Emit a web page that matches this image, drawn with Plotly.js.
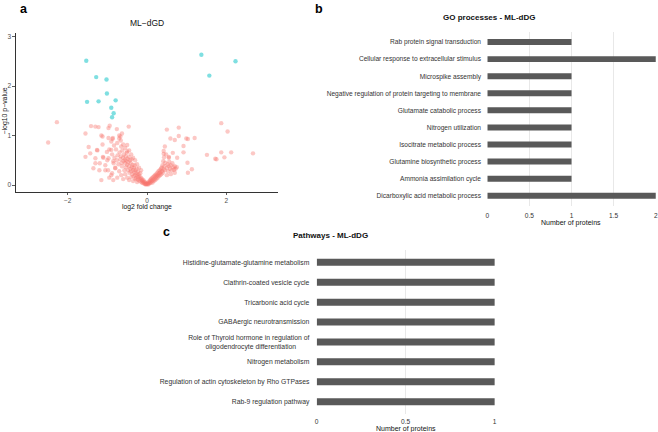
<!DOCTYPE html>
<html>
<head>
<meta charset="utf-8">
<script src="https://cdn.plot.ly/plotly-3.0.1.min.js"></script>
<style>html,body{margin:0;padding:0;background:#fff;}#chart{width:658px;height:432px;}</style>
</head>
<body>
<div id="chart"></div>
<script>
// ---- Panel a: volcano plot (log2 fold change, -log10 p-value) ----
const sigPoints = [
  [-1.53,2.51],[-1.28,2.18],[-1.02,2.13],[-1.01,1.85],[-1.51,1.68],[-1.22,1.69],
  [-0.79,1.71],[-0.90,1.56],[-0.84,1.45],[-0.88,1.37],[1.37,2.63],[1.57,2.21],[2.23,2.50]
];
const nonSigPoints = [
  [-2.49,0.86],[-2.27,1.27],[-1.55,1.04],[-1.41,1.19],[-1.30,1.18],[-1.22,1.17],[-1.15,1.00],[-1.12,0.98],
  [-0.97,1.15],[-0.94,1.20],[-0.76,1.13],[-0.87,0.93],[-0.97,0.95],[-0.63,1.04],[-0.70,0.94],[-0.83,0.80],
  [-1.47,0.77],[-1.43,0.64],[-1.55,0.57],[-1.26,0.71],[-1.30,0.54],[-1.19,0.44],[-1.35,0.34],[-1.05,0.30],
  [-0.97,0.54],[-1.01,0.67],[-1.11,0.57],[-0.90,0.71],[-0.84,0.44],[-0.80,0.34],[-0.88,0.24],[-1.15,0.10],
  [-1.30,0.44],[-0.46,1.18],[-0.67,0.98],[-0.65,0.78],[-0.50,0.81],
  [0.50,1.12],[0.80,1.16],[0.59,0.94],[0.70,0.91],[0.80,0.99],[0.92,0.79],[0.99,0.94],[1.03,0.93],
  [1.20,0.95],[0.92,0.66],[0.42,0.69],[0.42,0.63],[0.55,0.57],[0.65,0.65],[0.76,0.55],[1.02,0.45],
  [1.13,0.32],[1.03,0.25],[1.51,0.61],[1.72,0.53],[1.75,0.52],[1.87,1.25],[2.03,1.08],[1.87,0.66],
  [1.95,0.56],[2.12,0.66],[2.67,0.64],
  [-0.88,0.62],[-0.85,0.48],[-0.82,0.55],[-0.80,0.35],[-0.78,0.72],[-0.76,0.50],[-0.74,0.60],[-0.72,0.42],
  [-0.70,0.28],[-0.69,0.66],[-0.67,0.52],[-0.66,0.58],[-0.64,0.45],[-0.63,0.38],[-0.62,0.70],[-0.60,0.55],
  [-0.59,0.48],[-0.58,0.62],[-0.57,0.30],[-0.56,0.51],[-0.55,0.44],[-0.54,0.58],[-0.53,0.36],[-0.52,0.49],
  [-0.51,0.65],[-0.50,0.41],[-0.49,0.53],[-0.48,0.30],[-0.47,0.46],[-0.46,0.57],[-0.45,0.38],[-0.44,0.25],
  [-0.43,0.50],[-0.42,0.33],[-0.41,0.44],[-0.40,0.28],[-0.39,0.52],[-0.38,0.36],[-0.37,0.22],[-0.36,0.41],
  [-0.35,0.30],[-0.34,0.18],[-0.33,0.35],[-0.32,0.26],[-0.31,0.40],[-0.30,0.20],[-0.29,0.30],[-0.28,0.14],
  [-0.27,0.24],[-0.26,0.33],[-0.25,0.19],[-0.24,0.11],[-0.23,0.27],[-0.22,0.16],[-0.21,0.22],[-0.20,0.09],
  [-0.19,0.18],[-0.18,0.13],[-0.17,0.24],[-0.16,0.07],[-0.15,0.15],[-0.14,0.10],[-0.13,0.05],[-0.12,0.12],
  [-0.11,0.08],[-0.10,0.04],[-0.09,0.10],[-0.08,0.06],[-0.07,0.03],[-0.06,0.07],[-0.05,0.02],[-0.04,0.05],
  [-0.03,0.01],[-0.02,0.03],[-0.01,0.02],
  [-0.95,0.72],[-1.00,0.50],[-0.98,0.30],[-1.10,0.55],[-1.12,0.82],[-0.90,0.88],[-0.86,0.95],[-0.75,0.85],
  [-0.70,1.00],[-0.66,0.90],[-0.60,0.82],[-0.55,0.75],[-0.50,0.68],[-0.45,0.70],[-0.40,0.62],[-0.35,0.55],
  [-0.30,0.50],[-0.25,0.42],[-0.20,0.35],[-0.15,0.30],[-0.90,0.20],[-0.85,0.10],[-0.75,0.15],[-0.65,0.20],
  [-0.60,0.12],[-0.55,0.22],[-0.50,0.15],[-0.45,0.10],[-0.40,0.16],[-0.35,0.08],[-0.30,0.12],[-0.25,0.06],
  [-1.20,0.30],[-1.25,0.70],[-1.05,0.40],[-0.95,0.15],
  [0.01,0.02],[0.02,0.04],[0.03,0.01],[0.04,0.06],[0.05,0.03],[0.06,0.08],[0.07,0.05],[0.08,0.10],
  [0.09,0.04],[0.10,0.12],[0.11,0.07],[0.12,0.14],[0.13,0.09],[0.14,0.05],[0.15,0.16],[0.16,0.11],
  [0.17,0.08],[0.18,0.18],[0.19,0.13],[0.20,0.20],[0.21,0.10],[0.22,0.16],[0.23,0.22],[0.24,0.13],
  [0.25,0.19],[0.26,0.25],[0.27,0.15],[0.28,0.21],[0.29,0.28],[0.30,0.18],[0.31,0.24],[0.32,0.30],
  [0.33,0.20],[0.34,0.26],[0.35,0.33],[0.36,0.22],[0.37,0.35],[0.38,0.28],[0.39,0.40],[0.40,0.25],
  [0.41,0.48],[0.42,0.32],[0.43,0.56],[0.44,0.38],[0.45,0.30],[0.46,0.45],[0.48,0.62],[0.50,0.35],
  [0.52,0.42],[0.53,0.28],[0.55,0.38],[0.56,0.47],[0.58,0.33],[0.60,0.40],[0.62,0.30],[0.64,0.44],
  [0.66,0.36],[0.68,0.31],[0.70,0.38],[0.72,0.33],[0.75,0.36],[0.45,0.78],[0.50,0.20],[0.60,0.22],
  [0.70,0.25],[0.55,0.55]
];
const volcanoXTicks = [-2, 0, 2];
const volcanoYTicks = [0, 1, 2, 3];

// ---- Panel b: GO processes ----
const goProcesses = [
  "Rab protein signal transduction",
  "Cellular response to extracellular stimulus",
  "Microspike assembly",
  "Negative regulation of protein targeting to membrane",
  "Glutamate catabolic process",
  "Nitrogen utilization",
  "Isocitrate metabolic process",
  "Glutamine biosynthetic process",
  "Ammonia assimilation cycle",
  "Dicarboxylic acid metabolic process"
];
const goCounts = [1, 2, 1, 1, 1, 1, 1, 1, 1, 2];
const goTicks = [0, 0.5, 1, 1.5, 2];

// ---- Panel c: Pathways ----
const pathways = [
  "Histidine-glutamate-glutamine metabolism",
  "Clathrin-coated vesicle cycle",
  "Tricarbonic acid cycle",
  "GABAergic neurotransmission",
  "Role of Thyroid hormone in regulation of<br>oligodendrocyte differentiation\u00A0\u00A0\u00A0\u00A0\u00A0\u00A0\u00A0",
  "Nitrogen metabolism",
  "Regulation of actin cytoskeleton by Rho GTPases",
  "Rab-9 regulation pathway"
];
const pathwayCounts = [1, 1, 1, 1, 1, 1, 1, 1];
const pathwayTicks = [0, 0.5, 1];

const W = 658, H = 432;
const px = v => v / W;
const py = v => 1 - v / H;
const FONT = "Liberation Sans, Arial, sans-serif";

const traces = [
  {
    type: "scatter", mode: "markers", xaxis: "x", yaxis: "y",
    x: nonSigPoints.map(p => p[0]), y: nonSigPoints.map(p => p[1]),
    marker: {color: "#F8766D", opacity: 0.4, size: 4.4, line: {width: 0}},
    hoverinfo: "x+y"
  },
  {
    type: "scatter", mode: "markers", xaxis: "x", yaxis: "y",
    x: sigPoints.map(p => p[0]), y: sigPoints.map(p => p[1]),
    marker: {color: "#00BFC4", opacity: 0.5, size: 4.4, line: {width: 0}},
    hoverinfo: "x+y"
  },
  {
    type: "bar", orientation: "h", xaxis: "x2", yaxis: "y2",
    x: goCounts, y: goProcesses, width: 0.35,
    marker: {color: "#595959"}
  },
  {
    type: "bar", orientation: "h", xaxis: "x3", yaxis: "y3",
    x: pathwayCounts, y: pathways, width: 0.35,
    marker: {color: "#595959"}
  }
];

const tickFontA = {family: FONT, size: 6.5, color: "#4D4D4D"};
const tickFontB = {family: FONT, size: 6.6, color: "#333333"};

const layout = {
  width: W, height: H,
  margin: {l: 0, r: 0, t: 0, b: 0, pad: 0},
  paper_bgcolor: "#ffffff", plot_bgcolor: "rgba(0,0,0,0)",
  showlegend: false,
  font: {family: FONT, color: "#333"},
  xaxis: {
    domain: [px(16), px(278)], range: [-3.3, 3.3], anchor: "y",
    tickvals: volcanoXTicks, showline: true, linecolor: "#333", linewidth: 1.1,
    ticks: "outside", ticklen: 2, tickwidth: 0.8, tickcolor: "#333",
    showgrid: false, zeroline: false, tickfont: tickFontA
  },
  yaxis: {
    domain: [py(192), py(33)], range: [-0.14, 3.07], anchor: "x",
    tickvals: volcanoYTicks, showline: true, linecolor: "#333", linewidth: 1.1,
    ticks: "outside", ticklen: 2.5, tickwidth: 0.8, tickcolor: "#333",
    showgrid: false, zeroline: false, tickfont: tickFontA
  },
  xaxis2: {
    domain: [px(487.3), px(656)], range: [0, 2.003], anchor: "y2",
    tickvals: goTicks, ticktext: ["0", "0.5", "1", "1.5", "2"],
    showgrid: true, gridcolor: "#E8E8E8", gridwidth: 1, zeroline: false, showline: false,
    ticks: "outside", ticklen: 3, tickcolor: "rgba(0,0,0,0)", tickfont: tickFontB
  },
  yaxis2: {
    domain: [py(206), py(31.8)], type: "category", range: [9.6, -0.6], anchor: "x2",
    categoryorder: "array", categoryarray: goProcesses,
    showgrid: false, zeroline: false, showline: false,
    ticks: "outside", ticklen: 4, tickcolor: "rgba(0,0,0,0)", tickfont: tickFontB
  },
  xaxis3: {
    domain: [px(316.7), px(495)], range: [0, 1.002], anchor: "y3",
    tickvals: pathwayTicks, ticktext: ["0", "0.5", "1"],
    showgrid: true, gridcolor: "#E8E8E8", gridwidth: 1, zeroline: false, showline: false,
    ticks: "outside", ticklen: 1, tickcolor: "rgba(0,0,0,0)", tickfont: tickFontB
  },
  yaxis3: {
    domain: [py(413.6), py(250.4)], type: "category", range: [7.6, -0.6], anchor: "x3",
    categoryorder: "array", categoryarray: pathways,
    showgrid: false, zeroline: false, showline: false,
    ticks: "outside", ticklen: 5, tickcolor: "rgba(0,0,0,0)",
    tickfont: {family: FONT, size: 6.8, color: "#333333"}
  },
  annotations: [
    {text: "<b>a</b>", x: px(24), y: 1, xref: "paper", yref: "paper", showarrow: false,
     xanchor: "center", yanchor: "top", font: {family: FONT, size: 12.5, color: "#000"}},
    {text: "<b>b</b>", x: px(318.5), y: 1, xref: "paper", yref: "paper", showarrow: false,
     xanchor: "center", yanchor: "top", font: {family: FONT, size: 12.5, color: "#000"}},
    {text: "<b>c</b>", x: px(166.5), y: py(232), xref: "paper", yref: "paper", showarrow: false,
     xanchor: "center", yanchor: "middle", font: {family: FONT, size: 12.5, color: "#000"}},
    {text: "ML\u2212dGD", x: px(146.5), y: py(22.7), xref: "paper", yref: "paper", showarrow: false,
     xanchor: "center", yanchor: "middle", font: {family: FONT, size: 8.5, color: "#111"}},
    {text: "log2 fold change", x: px(146.7), y: py(207.3), xref: "paper", yref: "paper", showarrow: false,
     xanchor: "center", yanchor: "middle", font: {family: FONT, size: 6.8, color: "#111"}},
    {text: "\u2212log10 p\u2212value", x: px(4.5), y: py(111), xref: "paper", yref: "paper", showarrow: false,
     textangle: -90, xanchor: "center", yanchor: "middle", font: {family: FONT, size: 6.9, color: "#111"}},
    {text: "<b>GO processes - ML-dDG</b>", x: px(489), y: py(17.5), xref: "paper", yref: "paper", showarrow: false,
     xanchor: "center", yanchor: "middle", font: {family: FONT, size: 8, color: "#111"}},
    {text: "Number of proteins", x: px(571), y: py(223.3), xref: "paper", yref: "paper", showarrow: false,
     xanchor: "center", yanchor: "middle", font: {family: FONT, size: 7, color: "#111"}},
    {text: "<b>Pathways - ML-dDG</b>", x: px(330.8), y: py(235), xref: "paper", yref: "paper", showarrow: false,
     xanchor: "center", yanchor: "middle", font: {family: FONT, size: 8, color: "#111"}},
    {text: "Number of proteins", x: px(405.8), y: py(429), xref: "paper", yref: "paper", showarrow: false,
     xanchor: "center", yanchor: "middle", font: {family: FONT, size: 7, color: "#111"}}
  ]
};

Plotly.newPlot("chart", traces, layout, {displayModeBar: false, staticPlot: true});
</script>
</body>
</html>
